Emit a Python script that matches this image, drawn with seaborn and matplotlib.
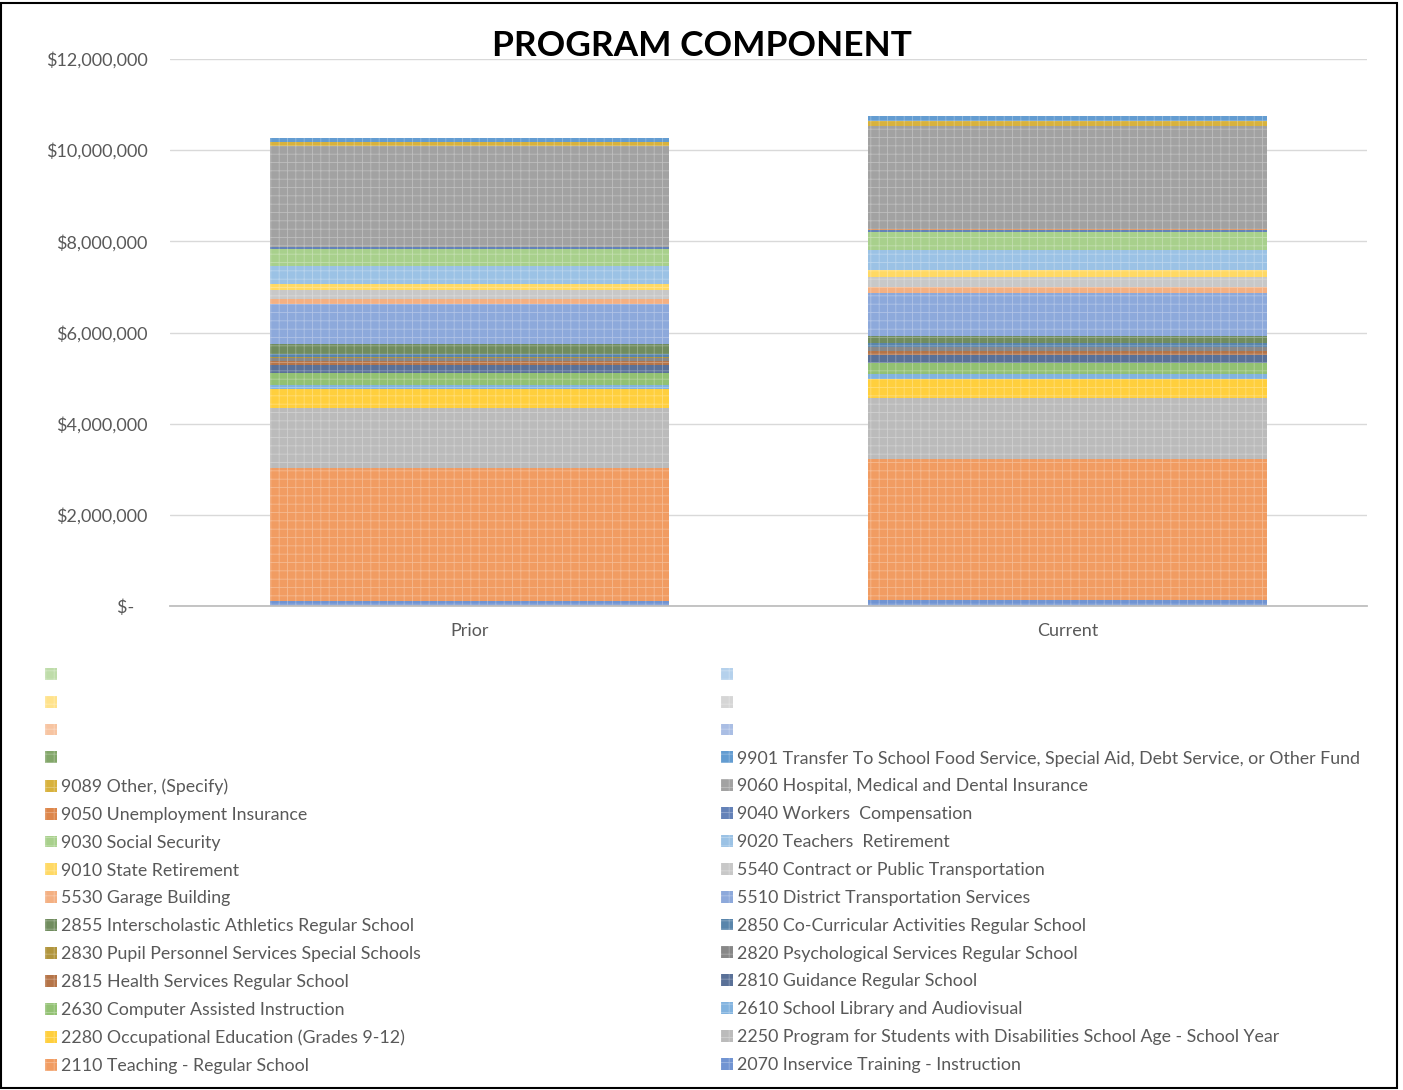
import numpy as np
import pandas as pd
import matplotlib
matplotlib.use("Agg")
import matplotlib.pyplot as plt
import seaborn as sns
from matplotlib.patches import Patch, Rectangle
from matplotlib.ticker import FuncFormatter

# Dados (valores em dólares)
categories = ["Prior", "Current"]

series_names = [
    "2070 Inservice Training - Instruction",
    "2110 Teaching - Regular School",
    "2250 Program for Students with Disabilities School Age - School Year",
    "2280 Occupational Education (Grades 9-12)",
    "2610 School Library and Audiovisual",
    "2630 Computer Assisted Instruction",
    "2810 Guidance Regular School",
    "2815 Health Services Regular School",
    "2820 Psychological Services Regular School",
    "2830 Pupil Personnel Services Special Schools",
    "2850 Co-Curricular Activities Regular School",
    "2855 Interscholastic Athletics Regular School",
    "5510 District Transportation Services",
    "5530 Garage Building",
    "5540 Contract or Public Transportation",
    "9010 State Retirement",
    "9020 Teachers  Retirement",
    "9030 Social Security",
    "9040 Workers  Compensation",
    "9050 Unemployment Insurance",
    "9060 Hospital, Medical and Dental Insurance",
    "9089 Other, (Specify)",
    "9901 Transfer To School Food Service, Special Aid, Debt Service, or Other Fund",
    " ", " ", " ", " ", " ", " ", " ",
]

prior_values = [
    100000, 2920000, 1320000, 420000, 80000, 280000, 170000, 80000, 80000, 10000,
    66000, 230000, 860000, 125000, 200000, 130000, 390000, 370000, 40000, 5000,
    2220000, 80000, 95000, 0, 0, 0, 0, 0, 0, 0,
]
current_values = [
    130000, 3090000, 1350000, 410000, 100000, 260000, 170000, 90000, 80000, 10000,
    70000, 160000, 940000, 140000, 210000, 160000, 430000, 410000, 45000, 5000,
    2280000, 95000, 120000, 0, 0, 0, 0, 0, 0, 0,
]

# Cores (paleta Office, clareada pelo padrão de preenchimento)
base_colors = [
    "#4472C4", "#ED7D31", "#A5A5A5", "#FFC000", "#5B9BD5", "#70AD47",
    "#264478", "#9E480E", "#636363", "#997300", "#255E91", "#43682B",
    "#698ED0", "#F1975A", "#B7B7B7", "#FFCD33", "#7CAFDD", "#8CC168",
    "#335AA1", "#D26012", "#848484", "#CC9A00", "#327DC2", "#5A8A39",
    "#8FAADC", "#F4B183", "#C9C9C9", "#FFD966", "#9DC3E6", "#A9D18E",
]


def lighten(c, f=0.24):
    rgb = np.array(matplotlib.colors.to_rgb(c))
    return tuple(rgb + (1 - rgb) * f)


colors = [lighten(c) for c in base_colors]
hatch_color = (1, 1, 1, 0.3)

font = "Lato"
text_gray = "#595959"

sns.set_style("white")
plt.rcParams["font.family"] = [font, "DejaVu Sans"]
plt.rcParams["hatch.linewidth"] = 0.6

fig = plt.figure(figsize=(14.03, 10.90), dpi=100)
ax = fig.add_axes([170 / 1403, 1 - 606 / 1090, (1367 - 170) / 1403, (606 - 59) / 1090])

# Barras empilhadas: desenha as somas acumuladas de cima para baixo
n = len(series_names)
prior_cum = np.cumsum(prior_values)
current_cum = np.cumsum(current_values)
for i in range(n - 1, -1, -1):
    df = pd.DataFrame({"cat": categories, "val": [prior_cum[i], current_cum[i]]})
    sns.barplot(data=df, x="cat", y="val", color=colors[i], saturation=1,
                width=0.667, linewidth=0, edgecolor=hatch_color, hatch="++",
                ax=ax, zorder=2)

ax.set_ylim(0, 12000000)
ax.set_xlim(-0.5, 1.5)
ax.set_yticks(np.arange(0, 12000001, 2000000))


def money(v, pos):
    if v == 0:
        return "$-   "
    return "${:,.0f}".format(v)


ax.yaxis.set_major_formatter(FuncFormatter(money))
ax.set_xlabel("")
ax.set_ylabel("")
ax.grid(axis="y", color="#D9D9D9", linewidth=1, zorder=0)
ax.set_axisbelow(True)
for s in ["top", "right", "left"]:
    ax.spines[s].set_visible(False)
ax.spines["bottom"].set_color("#BFBFBF")
ax.spines["bottom"].set_linewidth(1.3)
ax.spines["bottom"].set_zorder(3)
ax.tick_params(axis="y", length=0, pad=16, labelsize=13, labelcolor=text_gray)
ax.tick_params(axis="x", length=0, pad=12, labelsize=13, labelcolor=text_gray)

fig.text(0.5, 1 - 46 / 1090, "PROGRAM COMPONENT", ha="center", va="center",
         fontsize=25.4, fontweight="bold", color="black")

# Legenda em duas colunas (ordem invertida como no Excel)
order = list(range(n - 1, -1, -1))
left_idx = order[0::2]
right_idx = order[1::2]


def add_legend(idx, x0):
    handles = [Patch(facecolor=colors[i], edgecolor=hatch_color, hatch="++", linewidth=0)
               for i in idx]
    labels = [series_names[i] for i in idx]
    leg = fig.legend(handles, labels, loc="upper left",
                     bbox_to_anchor=(x0 / 1403, 1 - 667 / 1090),
                     bbox_transform=fig.transFigure, frameon=False,
                     fontsize=12.8, labelcolor=text_gray, handlelength=0.65,
                     handleheight=0.65, handletextpad=0.25, labelspacing=0.667,
                     borderpad=0, borderaxespad=0)
    return leg


add_legend(left_idx, 45)
add_legend(right_idx, 721)

fig.patches.append(Rectangle((0.5 / 1403, 2 / 1090), 1396 / 1403, 1085 / 1090,
                             transform=fig.transFigure, fill=False,
                             edgecolor="black", linewidth=1.5))

fig.savefig("out.png", dpi=100, facecolor="white")
